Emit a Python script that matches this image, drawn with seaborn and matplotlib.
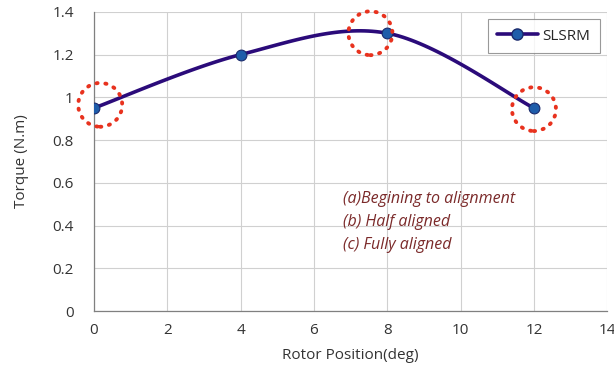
import numpy as np
import matplotlib
matplotlib.use("Agg")
import matplotlib.pyplot as plt
import seaborn as sns
import pandas as pd
from matplotlib.patches import Ellipse

# data
rotor_pos = [0, 4, 8, 12]
torque = [0.95, 1.2, 1.3, 0.95]
series_name = "SLSRM"
x_ticks = [0, 2, 4, 6, 8, 10, 12, 14]
y_ticks = [0, 0.2, 0.4, 0.6, 0.8, 1.0, 1.2, 1.4]
y_tick_labels = ["0", "0.2", "0.4", "0.6", "0.8", "1", "1.2", "1.4"]
highlight_x = [0.17, 7.54, 12.0]
highlight_y = [0.965, 1.30, 0.945]
notes = ["(a)Begining to alignment", "(b) Half aligned", "(c) Fully aligned"]

sns.set_theme(style="whitegrid")
plt.rcParams['font.family'] = ['Open Sans', 'DejaVu Sans']

fig = plt.figure(figsize=(6.14, 3.70), dpi=100)
ax = fig.add_axes([0.153, 0.159, 0.836, 0.809])

# Excel-style smoothed curve (Bezier through points)
def smooth(xs, ys, n=40):
    P = np.column_stack([xs, ys]).astype(float)
    out = []
    for i in range(len(P) - 1):
        p0 = P[i - 1] if i > 0 else P[i]
        p1, p2 = P[i], P[i + 1]
        p3 = P[i + 2] if i + 2 < len(P) else P[i + 1]
        c1 = p1 + (p2 - p0) / 6
        c2 = p2 - (p3 - p1) / 6
        t = np.linspace(0, 1, n)[:, None]
        seg = (1 - t) ** 3 * p1 + 3 * (1 - t) ** 2 * t * c1 + 3 * (1 - t) * t ** 2 * c2 + t ** 3 * p2
        out.append(seg if i == 0 else seg[1:])
    return np.vstack(out)

curve = smooth(rotor_pos, torque)
df_curve = pd.DataFrame({"x": curve[:, 0], "y": curve[:, 1]})
sns.lineplot(data=df_curve, x="x", y="y", ax=ax, color="#2B0B7A", lw=2.6, sort=False, zorder=3)
df = pd.DataFrame({"x": rotor_pos, "y": torque})
sns.scatterplot(data=df, x="x", y="y", ax=ax, color="#1F5DAA", edgecolor="#1A2A6C",
                s=60, linewidth=0.8, zorder=4)

for hx, hy in zip(highlight_x, highlight_y):
    e = Ellipse((hx, hy), width=1.2, height=0.205, fill=False, edgecolor="#E8321E",
                linestyle=(0, (0.3, 2.0)), lw=2.8, zorder=5, clip_on=False)
    e.set_capstyle("round")
    ax.add_patch(e)

ax.plot([], [], color="#2B0B7A", lw=2.6, marker="o", markersize=8,
        markerfacecolor="#1F5DAA", markeredgecolor="#1A2A6C", label=series_name)
leg = ax.legend(loc="upper right", frameon=True, fancybox=False, fontsize=11,
                handlelength=2.7, handletextpad=0.3, borderpad=0.6,
                bbox_to_anchor=(1.0, 1.0))
leg.get_frame().set_edgecolor("#808080")
leg.get_frame().set_linewidth(0.8)

for i, t in enumerate(notes):
    ax.text(6.8, 0.525 - i * 0.107, t, color="#7B2A2A", style="italic", fontsize=11.5,
            va="center", ha="left")

ax.set_xlim(0, 14)
ax.set_ylim(0, 1.4)
ax.set_xticks(x_ticks)
ax.set_yticks(y_ticks)
ax.set_yticklabels(y_tick_labels)
ax.set_xlabel("Rotor Position(deg)", fontsize=11, color="#333333", labelpad=7)
ax.set_ylabel("Torque (N.m)", fontsize=11, color="#333333", labelpad=17)
ax.tick_params(axis="both", labelsize=11, colors="#333333", direction="inout",
               length=5, width=0.8, pad=6)
ax.tick_params(axis="y", pad=12)
ax.tick_params(axis="both", color="#808080")
ax.grid(True, color="#D0D0D0", lw=0.8)
for s in ["top", "right"]:
    ax.spines[s].set_visible(False)
for s in ["left", "bottom"]:
    ax.spines[s].set_color("#808080")
    ax.spines[s].set_linewidth(0.9)
ax.set_facecolor("white")

fig.savefig("out.png", dpi=100)
